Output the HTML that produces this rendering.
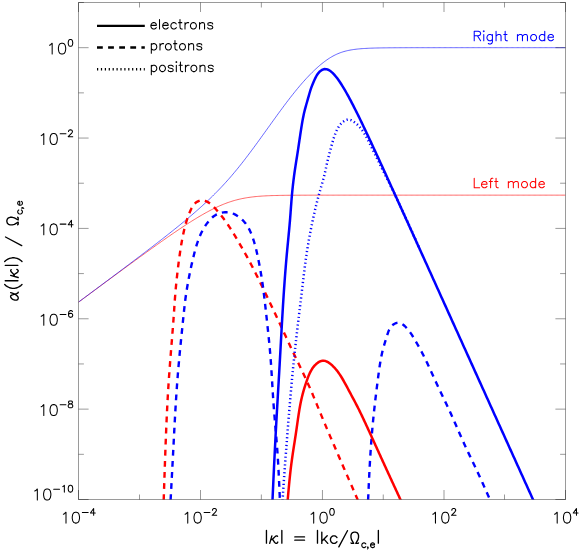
<!DOCTYPE html>
<html><head><meta charset="utf-8"><title>plot</title>
<style>html,body{margin:0;padding:0;background:#fff;font-family:"Liberation Sans",sans-serif}svg{display:block}</style>
</head><body>
<svg width="581" height="553" viewBox="0 0 581 553">
<rect width="581" height="553" fill="#fff"/>
<defs><clipPath id="c"><rect x="78.5" y="2.5" width="487.0" height="497.0"/></clipPath></defs>
<g clip-path="url(#c)" fill="none" stroke-linejoin="round">
<path d="M78.5,302.19 L79.72,301.29 L80.94,300.39 L82.15,299.49 L83.37,298.59 L84.59,297.68 L85.81,296.78 L87.02,295.88 L88.24,294.98 L89.46,294.08 L90.68,293.18 L91.89,292.28 L93.11,291.38 L94.33,290.48 L95.55,289.58 L96.76,288.68 L97.98,287.78 L99.2,286.88 L100.41,285.98 L101.63,285.08 L102.85,284.18 L104.07,283.28 L105.28,282.38 L106.5,281.49 L107.72,280.59 L108.94,279.69 L110.16,278.79 L111.37,277.9 L112.59,277 L113.81,276.1 L115.03,275.21 L116.24,274.31 L117.46,273.42 L118.68,272.52 L119.9,271.63 L121.11,270.73 L122.33,269.84 L123.55,268.95 L124.76,268.05 L125.98,267.16 L127.2,266.27 L128.42,265.38 L129.63,264.49 L130.85,263.6 L132.07,262.71 L133.29,261.82 L134.5,260.93 L135.72,260.04 L136.94,259.16 L138.16,258.27 L139.38,257.39 L140.59,256.5 L141.81,255.62 L143.03,254.74 L144.25,253.86 L145.46,252.98 L146.68,252.1 L147.9,251.22 L149.12,250.34 L150.33,249.47 L151.55,248.6 L152.77,247.72 L153.99,246.85 L155.2,245.98 L156.42,245.12 L157.64,244.25 L158.86,243.39 L160.07,242.52 L161.29,241.66 L162.51,240.8 L163.72,239.95 L164.94,239.09 L166.16,238.24 L167.38,237.39 L168.59,236.55 L169.81,235.7 L171.03,234.86 L172.25,234.02 L173.47,233.19 L174.68,232.36 L175.9,231.53 L177.12,230.7 L178.33,229.88 L179.55,229.06 L180.77,228.25 L181.99,227.44 L183.2,226.64 L184.42,225.84 L185.64,225.04 L186.86,224.25 L188.07,223.46 L189.29,222.68 L190.51,221.91 L191.73,221.14 L192.94,220.38 L194.16,219.62 L195.38,218.87 L196.6,218.13 L197.81,217.4 L199.03,216.67 L200.25,215.95 L201.47,215.24 L202.69,214.54 L203.9,213.85 L205.12,213.17 L206.34,212.49 L207.56,211.83 L208.77,211.18 L209.99,210.53 L211.21,209.9 L212.43,209.29 L213.64,208.68 L214.86,208.08 L216.08,207.5 L217.29,206.93 L218.51,206.38 L219.73,205.84 L220.95,205.31 L222.16,204.8 L223.38,204.3 L224.6,203.81 L225.82,203.35 L227.03,202.89 L228.25,202.46 L229.47,202.04 L230.69,201.63 L231.91,201.24 L233.12,200.87 L234.34,200.51 L235.56,200.17 L236.78,199.85 L237.99,199.54 L239.21,199.24 L240.43,198.97 L241.65,198.7 L242.86,198.45 L244.08,198.22 L245.3,197.99 L246.51,197.79 L247.73,197.59 L248.95,197.41 L250.17,197.24 L251.38,197.08 L252.6,196.93 L253.82,196.79 L255.04,196.66 L256.25,196.54 L257.47,196.43 L258.69,196.32 L259.91,196.23 L261.12,196.14 L262.34,196.06 L263.56,195.98 L264.78,195.92 L266,195.85 L267.21,195.79 L268.43,195.74 L269.65,195.69 L270.87,195.64 L272.08,195.6 L273.3,195.56 L274.52,195.53 L275.74,195.5 L276.95,195.47 L278.17,195.44 L279.39,195.41 L280.61,195.39 L281.82,195.37 L283.04,195.35 L284.26,195.33 L285.48,195.32 L286.69,195.3 L287.91,195.29 L289.13,195.28 L290.35,195.27 L291.56,195.26 L292.78,195.25 L294,195.24 L295.22,195.23 L296.43,195.22 L297.65,195.22 L298.87,195.21 L300.09,195.21 L301.3,195.2 L302.52,195.2 L303.74,195.19 L304.96,195.19 L306.17,195.19 L307.39,195.18 L308.61,195.18 L309.82,195.18 L311.04,195.18 L312.26,195.17 L313.48,195.17 L314.69,195.17 L315.91,195.17 L317.13,195.17 L318.35,195.17 L319.56,195.16 L320.78,195.16 L322,195.16 L323.22,195.16 L324.44,195.16 L325.65,195.16 L326.87,195.16 L328.09,195.16 L329.31,195.16 L330.52,195.16 L331.74,195.16 L332.96,195.16 L334.18,195.16 L335.39,195.15 L336.61,195.15 L337.83,195.15 L339.05,195.15 L340.26,195.15 L341.48,195.15 L342.7,195.15 L343.92,195.15 L345.13,195.15 L346.35,195.15 L347.57,195.15 L348.79,195.15 L350,195.15 L351.22,195.15 L352.44,195.15 L353.65,195.15 L354.87,195.15 L356.09,195.15 L357.31,195.15 L358.52,195.15 L359.74,195.15 L360.96,195.15 L362.18,195.15 L363.39,195.15 L364.61,195.15 L365.83,195.15 L367.05,195.15 L368.26,195.15 L369.48,195.15 L370.7,195.15 L371.92,195.15 L373.13,195.15 L374.35,195.15 L375.57,195.15 L376.79,195.15 L378,195.15 L379.22,195.15 L380.44,195.15 L381.66,195.15 L382.88,195.15 L384.09,195.15 L385.31,195.15 L386.53,195.15 L387.75,195.15 L388.96,195.15 L390.18,195.15 L391.4,195.15 L392.62,195.15 L393.83,195.15 L395.05,195.15 L396.27,195.15 L397.49,195.15 L398.7,195.15 L399.92,195.15 L401.14,195.15 L402.36,195.15 L403.57,195.15 L404.79,195.15 L406.01,195.15 L407.23,195.15 L408.44,195.15 L409.66,195.15 L410.88,195.15 L412.1,195.15 L413.31,195.15 L414.53,195.15 L415.75,195.15 L416.96,195.15 L418.18,195.15 L419.4,195.15 L420.62,195.15 L421.83,195.15 L423.05,195.15 L424.27,195.15 L425.49,195.15 L426.7,195.15 L427.92,195.15 L429.14,195.15 L430.36,195.15 L431.57,195.15 L432.79,195.15 L434.01,195.15 L435.23,195.15 L436.44,195.15 L437.66,195.15 L438.88,195.15 L440.1,195.15 L441.31,195.15 L442.53,195.15 L443.75,195.15 L444.97,195.15 L446.19,195.15 L447.4,195.15 L448.62,195.15 L449.84,195.15 L451.06,195.15 L452.27,195.15 L453.49,195.15 L454.71,195.15 L455.93,195.15 L457.14,195.15 L458.36,195.15 L459.58,195.15 L460.8,195.15 L462.01,195.15 L463.23,195.15 L464.45,195.15 L465.67,195.15 L466.88,195.15 L468.1,195.15 L469.32,195.15 L470.54,195.15 L471.75,195.15 L472.97,195.15 L474.19,195.15 L475.4,195.15 L476.62,195.15 L477.84,195.15 L479.06,195.15 L480.27,195.15 L481.49,195.15 L482.71,195.15 L483.93,195.15 L485.14,195.15 L486.36,195.15 L487.58,195.15 L488.8,195.15 L490.01,195.15 L491.23,195.15 L492.45,195.15 L493.67,195.15 L494.88,195.15 L496.1,195.15 L497.32,195.15 L498.54,195.15 L499.75,195.15 L500.97,195.15 L502.19,195.15 L503.41,195.15 L504.62,195.15 L505.84,195.15 L507.06,195.15 L508.28,195.15 L509.5,195.15 L510.71,195.15 L511.93,195.15 L513.15,195.15 L514.37,195.15 L515.58,195.15 L516.8,195.15 L518.02,195.15 L519.24,195.15 L520.45,195.15 L521.67,195.15 L522.89,195.15 L524.11,195.15 L525.32,195.15 L526.54,195.15 L527.76,195.15 L528.98,195.15 L530.19,195.15 L531.41,195.15 L532.63,195.15 L533.85,195.15 L535.06,195.15 L536.28,195.15 L537.5,195.15 L538.71,195.15 L539.93,195.15 L541.15,195.15 L542.37,195.15 L543.59,195.15 L544.8,195.15 L546.02,195.15 L547.24,195.15 L548.45,195.15 L549.67,195.15 L550.89,195.15 L552.11,195.15 L553.33,195.15 L554.54,195.15 L555.76,195.15 L556.98,195.15 L558.19,195.15 L559.41,195.15 L560.63,195.15 L561.85,195.15 L563.07,195.15 L564.28,195.15 L565.5,195.15" stroke="#f00" stroke-width="0.6"/>
<path d="M78.5,302.11 L79.72,301.2 L80.94,300.3 L82.15,299.39 L83.37,298.48 L84.59,297.58 L85.81,296.67 L87.02,295.77 L88.24,294.86 L89.46,293.95 L90.68,293.05 L91.89,292.14 L93.11,291.23 L94.33,290.33 L95.55,289.42 L96.76,288.51 L97.98,287.6 L99.2,286.7 L100.41,285.79 L101.63,284.88 L102.85,283.97 L104.07,283.06 L105.28,282.15 L106.5,281.24 L107.72,280.34 L108.94,279.43 L110.16,278.52 L111.37,277.61 L112.59,276.69 L113.81,275.78 L115.03,274.87 L116.24,273.96 L117.46,273.05 L118.68,272.14 L119.9,271.22 L121.11,270.31 L122.33,269.4 L123.55,268.48 L124.76,267.57 L125.98,266.65 L127.2,265.74 L128.42,264.82 L129.63,263.91 L130.85,262.99 L132.07,262.07 L133.29,261.15 L134.5,260.23 L135.72,259.31 L136.94,258.39 L138.16,257.47 L139.38,256.55 L140.59,255.62 L141.81,254.7 L143.03,253.77 L144.25,252.85 L145.46,251.92 L146.68,250.99 L147.9,250.06 L149.12,249.13 L150.33,248.2 L151.55,247.27 L152.77,246.33 L153.99,245.39 L155.2,244.46 L156.42,243.52 L157.64,242.58 L158.86,241.63 L160.07,240.69 L161.29,239.74 L162.51,238.79 L163.72,237.84 L164.94,236.89 L166.16,235.93 L167.38,234.97 L168.59,234.01 L169.81,233.05 L171.03,232.08 L172.25,231.11 L173.47,230.14 L174.68,229.17 L175.9,228.19 L177.12,227.21 L178.33,226.22 L179.55,225.23 L180.77,224.24 L181.99,223.24 L183.2,222.24 L184.42,221.23 L185.64,220.22 L186.86,219.2 L188.07,218.18 L189.29,217.15 L190.51,216.12 L191.73,215.08 L192.94,214.04 L194.16,212.99 L195.38,211.93 L196.6,210.86 L197.81,209.79 L199.03,208.71 L200.25,207.62 L201.47,206.52 L202.69,205.42 L203.9,204.3 L205.12,203.18 L206.34,202.05 L207.56,200.9 L208.77,199.75 L209.99,198.59 L211.21,197.41 L212.43,196.22 L213.64,195.02 L214.86,193.81 L216.08,192.59 L217.29,191.35 L218.51,190.1 L219.73,188.84 L220.95,187.56 L222.16,186.27 L223.38,184.96 L224.6,183.64 L225.82,182.3 L227.03,180.95 L228.25,179.58 L229.47,178.2 L230.69,176.8 L231.91,175.38 L233.12,173.95 L234.34,172.51 L235.56,171.04 L236.78,169.57 L237.99,168.08 L239.21,166.57 L240.43,165.05 L241.65,163.51 L242.86,161.96 L244.08,160.4 L245.3,158.82 L246.51,157.24 L247.73,155.64 L248.95,154.03 L250.17,152.41 L251.38,150.77 L252.6,149.13 L253.82,147.48 L255.04,145.83 L256.25,144.16 L257.47,142.49 L258.69,140.82 L259.91,139.13 L261.12,137.45 L262.34,135.76 L263.56,134.07 L264.78,132.37 L266,130.67 L267.21,128.98 L268.43,127.28 L269.65,125.58 L270.87,123.88 L272.08,122.19 L273.3,120.5 L274.52,118.81 L275.74,117.13 L276.95,115.45 L278.17,113.78 L279.39,112.11 L280.61,110.45 L281.82,108.8 L283.04,107.16 L284.26,105.52 L285.48,103.9 L286.69,102.29 L287.91,100.69 L289.13,99.1 L290.35,97.53 L291.56,95.97 L292.78,94.43 L294,92.9 L295.22,91.39 L296.43,89.9 L297.65,88.42 L298.87,86.96 L300.09,85.53 L301.3,84.11 L302.52,82.71 L303.74,81.33 L304.96,79.98 L306.17,78.64 L307.39,77.33 L308.61,76.05 L309.82,74.78 L311.04,73.54 L312.26,72.32 L313.48,71.13 L314.69,69.97 L315.91,68.83 L317.13,67.72 L318.35,66.63 L319.56,65.58 L320.78,64.55 L322,63.56 L323.22,62.59 L324.44,61.66 L325.65,60.76 L326.87,59.89 L328.09,59.06 L329.31,58.26 L330.52,57.5 L331.74,56.78 L332.96,56.09 L334.18,55.45 L335.39,54.83 L336.61,54.26 L337.83,53.72 L339.05,53.22 L340.26,52.76 L341.48,52.33 L342.7,51.93 L343.92,51.56 L345.13,51.22 L346.35,50.91 L347.57,50.62 L348.79,50.36 L350,50.12 L351.22,49.91 L352.44,49.71 L353.65,49.53 L354.87,49.36 L356.09,49.21 L357.31,49.07 L358.52,48.95 L359.74,48.84 L360.96,48.73 L362.18,48.64 L363.39,48.55 L364.61,48.48 L365.83,48.41 L367.05,48.34 L368.26,48.28 L369.48,48.23 L370.7,48.18 L371.92,48.14 L373.13,48.1 L374.35,48.06 L375.57,48.03 L376.79,47.99 L378,47.97 L379.22,47.94 L380.44,47.92 L381.66,47.9 L382.88,47.88 L384.09,47.86 L385.31,47.85 L386.53,47.83 L387.75,47.82 L388.96,47.81 L390.18,47.79 L391.4,47.79 L392.62,47.78 L393.83,47.77 L395.05,47.76 L396.27,47.75 L397.49,47.75 L398.7,47.74 L399.92,47.74 L401.14,47.73 L402.36,47.73 L403.57,47.72 L404.79,47.72 L406.01,47.72 L407.23,47.71 L408.44,47.71 L409.66,47.71 L410.88,47.71 L412.1,47.7 L413.31,47.7 L414.53,47.7 L415.75,47.7 L416.96,47.7 L418.18,47.7 L419.4,47.69 L420.62,47.69 L421.83,47.69 L423.05,47.69 L424.27,47.69 L425.49,47.69 L426.7,47.69 L427.92,47.69 L429.14,47.69 L430.36,47.69 L431.57,47.69 L432.79,47.69 L434.01,47.69 L435.23,47.69 L436.44,47.69 L437.66,47.68 L438.88,47.68 L440.1,47.68 L441.31,47.68 L442.53,47.68 L443.75,47.68 L444.97,47.68 L446.19,47.68 L447.4,47.68 L448.62,47.68 L449.84,47.68 L451.06,47.68 L452.27,47.68 L453.49,47.68 L454.71,47.68 L455.93,47.68 L457.14,47.68 L458.36,47.68 L459.58,47.68 L460.8,47.68 L462.01,47.68 L463.23,47.68 L464.45,47.68 L465.67,47.68 L466.88,47.68 L468.1,47.68 L469.32,47.68 L470.54,47.68 L471.75,47.68 L472.97,47.68 L474.19,47.68 L475.4,47.68 L476.62,47.68 L477.84,47.68 L479.06,47.68 L480.27,47.68 L481.49,47.68 L482.71,47.68 L483.93,47.68 L485.14,47.68 L486.36,47.68 L487.58,47.68 L488.8,47.68 L490.01,47.68 L491.23,47.68 L492.45,47.68 L493.67,47.68 L494.88,47.68 L496.1,47.68 L497.32,47.68 L498.54,47.68 L499.75,47.68 L500.97,47.68 L502.19,47.68 L503.41,47.68 L504.62,47.68 L505.84,47.68 L507.06,47.68 L508.28,47.68 L509.5,47.68 L510.71,47.68 L511.93,47.68 L513.15,47.68 L514.37,47.68 L515.58,47.68 L516.8,47.68 L518.02,47.68 L519.24,47.68 L520.45,47.68 L521.67,47.68 L522.89,47.68 L524.11,47.68 L525.32,47.68 L526.54,47.68 L527.76,47.68 L528.98,47.68 L530.19,47.68 L531.41,47.68 L532.63,47.68 L533.85,47.68 L535.06,47.68 L536.28,47.68 L537.5,47.68 L538.71,47.68 L539.93,47.68 L541.15,47.68 L542.37,47.68 L543.59,47.68 L544.8,47.68 L546.02,47.68 L547.24,47.68 L548.45,47.68 L549.67,47.68 L550.89,47.68 L552.11,47.68 L553.33,47.68 L554.54,47.68 L555.76,47.68 L556.98,47.68 L558.19,47.68 L559.41,47.68 L560.63,47.68 L561.85,47.68 L563.07,47.68 L564.28,47.68 L565.5,47.68" stroke="#00f" stroke-width="0.6"/>
<path d="M163.7,500 L163.75,498.37 L163.81,496.75 L163.86,495.12 L163.91,493.5 L163.97,491.87 L164.02,490.25 L164.07,488.62 L164.13,487 L164.18,485.37 L164.24,483.75 L164.29,482.12 L164.35,480.5 L164.4,478.87 L164.45,477.25 L164.51,475.62 L164.56,474 L164.62,472.37 L164.67,470.75 L164.73,469.12 L164.79,467.5 L164.84,465.87 L164.9,464.25 L164.96,462.62 L165.01,461 L165.07,459.37 L165.13,457.75 L165.19,456.12 L165.24,454.5 L165.3,452.87 L165.36,451.25 L165.42,449.62 L165.48,448 L165.54,446.37 L165.6,444.75 L165.66,443.12 L165.73,441.5 L165.79,439.87 L165.85,438.25 L165.91,436.62 L165.98,435 L166.04,433.37 L166.11,431.75 L166.18,430.12 L166.24,428.5 L166.31,426.87 L166.38,425.25 L166.45,423.62 L166.52,422 L166.59,420.37 L166.67,418.75 L166.74,417.12 L166.82,415.5 L166.89,413.87 L166.97,412.25 L167.05,410.63 L167.13,409 L167.21,407.38 L167.29,405.75 L167.38,404.13 L167.46,402.51 L167.55,400.88 L167.64,399.26 L167.73,397.63 L167.82,396.01 L167.91,394.39 L168.01,392.76 L168.1,391.14 L168.2,389.52 L168.3,387.9 L168.4,386.27 L168.51,384.65 L168.61,383.03 L168.72,381.4 L168.83,379.78 L168.94,378.16 L169.05,376.54 L169.16,374.92 L169.28,373.29 L169.4,371.67 L169.52,370.05 L169.64,368.43 L169.76,366.81 L169.89,365.19 L170.01,363.57 L170.14,361.94 L170.26,360.32 L170.39,358.7 L170.52,357.08 L170.65,355.46 L170.78,353.84 L170.91,352.22 L171.04,350.6 L171.17,348.98 L171.3,347.36 L171.43,345.74 L171.56,344.11 L171.69,342.49 L171.83,340.87 L171.96,339.25 L172.09,337.63 L172.22,336.01 L172.34,334.39 L172.47,332.77 L172.6,331.15 L172.73,329.53 L172.85,327.9 L172.98,326.28 L173.1,324.66 L173.22,323.04 L173.34,321.42 L173.46,319.8 L173.58,318.17 L173.69,316.55 L173.8,314.93 L173.92,313.31 L174.03,311.69 L174.14,310.06 L174.25,308.44 L174.36,306.82 L174.47,305.2 L174.58,303.57 L174.69,301.95 L174.81,300.33 L174.93,298.71 L175.05,297.09 L175.17,295.47 L175.3,293.84 L175.44,292.22 L175.58,290.6 L175.73,288.98 L175.88,287.37 L176.03,285.75 L176.19,284.13 L176.35,282.51 L176.52,280.89 L176.69,279.28 L176.86,277.66 L177.04,276.04 L177.22,274.43 L177.4,272.81 L177.59,271.19 L177.78,269.58 L177.97,267.96 L178.17,266.35 L178.37,264.74 L178.57,263.12 L178.78,261.51 L179,259.9 L179.21,258.29 L179.44,256.68 L179.66,255.07 L179.89,253.46 L180.13,251.85 L180.37,250.24 L180.62,248.63 L180.87,247.03 L181.13,245.42 L181.4,243.82 L181.67,242.22 L181.96,240.62 L182.25,239.02 L182.56,237.42 L182.88,235.82 L183.2,234.22 L183.54,232.63 L183.9,231.04 L184.26,229.45 L184.65,227.87 L185.05,226.29 L185.47,224.72 L185.9,223.16 L186.36,221.6 L186.84,220.05 L187.34,218.51 L187.87,216.98 L188.43,215.46 L189.01,213.94 L189.62,212.43 L190.27,210.92 L190.95,209.42 L191.68,207.94 L192.49,206.51 L193.4,205.15 L194.44,203.9 L195.63,202.77 L196.99,201.81 L198.47,201.06 L200.05,200.54 L201.67,200.31 L203.28,200.39 L204.88,200.76 L206.42,201.36 L207.9,202.12 L209.3,203.01 L210.61,203.99 L211.85,205.04 L213.03,206.16 L214.17,207.32 L215.28,208.52 L216.36,209.73 L217.43,210.96 L218.49,212.2 L219.53,213.45 L220.55,214.72 L221.56,215.99 L222.56,217.28 L223.54,218.57 L224.51,219.88 L225.47,221.19 L226.41,222.52 L227.33,223.85 L228.25,225.2 L229.15,226.55 L230.04,227.91 L230.92,229.28 L231.79,230.65 L232.65,232.03 L233.5,233.42 L234.35,234.81 L235.19,236.2 L236.02,237.6 L236.85,239 L237.67,240.41 L238.49,241.81 L239.31,243.22 L240.12,244.63 L240.94,246.04 L241.75,247.45 L242.55,248.86 L243.35,250.28 L244.15,251.69 L244.95,253.11 L245.74,254.53 L246.53,255.95 L247.31,257.38 L248.09,258.8 L248.87,260.23 L249.64,261.67 L250.4,263.1 L251.16,264.54 L251.92,265.98 L252.67,267.42 L253.41,268.86 L254.15,270.31 L254.89,271.76 L255.62,273.21 L256.35,274.67 L257.08,276.12 L257.8,277.58 L258.52,279.04 L259.23,280.5 L259.95,281.96 L260.66,283.42 L261.37,284.88 L262.08,286.35 L262.79,287.81 L263.5,289.27 L264.21,290.74 L264.92,292.2 L265.62,293.67 L266.33,295.13 L267.03,296.6 L267.74,298.06 L268.44,299.53 L269.15,300.99 L269.85,302.46 L270.55,303.93 L271.25,305.4 L271.95,306.86 L272.65,308.33 L273.35,309.8 L274.04,311.27 L274.74,312.74 L275.43,314.21 L276.12,315.68 L276.81,317.15 L277.5,318.63 L278.19,320.1 L278.88,321.57 L279.56,323.05 L280.25,324.52 L280.93,326 L281.61,327.47 L282.3,328.95 L282.98,330.43 L283.66,331.9 L284.34,333.38 L285.02,334.85 L285.71,336.33 L286.39,337.81 L287.07,339.28 L287.76,340.76 L288.44,342.23 L289.13,343.7 L289.82,345.18 L290.5,346.65 L291.19,348.12 L291.89,349.6 L292.58,351.07 L293.27,352.54 L293.97,354.01 L294.67,355.48 L295.37,356.94 L296.07,358.41 L296.78,359.88 L297.48,361.34 L298.19,362.81 L298.89,364.27 L299.6,365.74 L300.3,367.21 L301,368.67 L301.7,370.14 L302.4,371.61 L303.1,373.08 L303.79,374.55 L304.49,376.02 L305.17,377.49 L305.86,378.97 L306.53,380.44 L307.21,381.92 L307.88,383.41 L308.54,384.89 L309.2,386.38 L309.85,387.86 L310.5,389.36 L311.15,390.85 L311.78,392.34 L312.42,393.84 L313.05,395.34 L313.68,396.84 L314.31,398.34 L314.93,399.84 L315.56,401.34 L316.18,402.84 L316.8,404.35 L317.42,405.85 L318.04,407.36 L318.65,408.86 L319.27,410.37 L319.89,411.87 L320.51,413.37 L321.13,414.88 L321.75,416.38 L322.37,417.88 L323,419.38 L323.63,420.88 L324.25,422.38 L324.88,423.88 L325.52,425.38 L326.15,426.88 L326.78,428.38 L327.42,429.87 L328.06,431.37 L328.69,432.86 L329.33,434.36 L329.97,435.85 L330.61,437.35 L331.26,438.84 L331.9,440.34 L332.54,441.83 L333.19,443.32 L333.83,444.82 L334.48,446.31 L335.12,447.8 L335.77,449.29 L336.41,450.79 L337.06,452.28 L337.71,453.77 L338.35,455.26 L339,456.75 L339.65,458.24 L340.29,459.74 L340.94,461.23 L341.59,462.72 L342.24,464.21 L342.88,465.7 L343.53,467.19 L344.18,468.69 L344.83,470.18 L345.48,471.67 L346.12,473.16 L346.77,474.65 L347.42,476.14 L348.07,477.63 L348.72,479.12 L349.37,480.62 L350.01,482.11 L350.66,483.6 L351.31,485.09 L351.96,486.58 L352.61,488.07 L353.26,489.56 L353.91,491.05 L354.56,492.54 L355.2,494.04 L355.85,495.53 L356.5,497.02 L357.15,498.51 L357.8,500" stroke="#f00" stroke-width="2.4" stroke-dasharray="5.8 5.3" stroke-dashoffset="0"/>
<path d="M170.6,500 L170.68,498.48 L170.76,496.96 L170.85,495.44 L170.93,493.92 L171.01,492.41 L171.09,490.89 L171.17,489.37 L171.26,487.85 L171.34,486.33 L171.42,484.81 L171.5,483.29 L171.58,481.77 L171.67,480.25 L171.75,478.73 L171.83,477.22 L171.91,475.7 L171.99,474.18 L172.07,472.66 L172.15,471.14 L172.24,469.62 L172.32,468.1 L172.4,466.58 L172.48,465.06 L172.56,463.54 L172.64,462.02 L172.72,460.51 L172.8,458.99 L172.88,457.47 L172.96,455.95 L173.04,454.43 L173.12,452.91 L173.2,451.39 L173.28,449.87 L173.36,448.35 L173.43,446.83 L173.51,445.31 L173.59,443.79 L173.67,442.27 L173.75,440.75 L173.83,439.24 L173.9,437.72 L173.98,436.2 L174.06,434.68 L174.14,433.16 L174.22,431.64 L174.3,430.12 L174.38,428.6 L174.46,427.08 L174.54,425.56 L174.62,424.04 L174.7,422.52 L174.78,421 L174.87,419.48 L174.95,417.97 L175.03,416.45 L175.12,414.93 L175.21,413.41 L175.29,411.89 L175.38,410.37 L175.47,408.85 L175.56,407.33 L175.65,405.81 L175.74,404.3 L175.83,402.78 L175.93,401.26 L176.02,399.74 L176.12,398.22 L176.22,396.71 L176.32,395.19 L176.42,393.67 L176.52,392.15 L176.62,390.63 L176.73,389.12 L176.84,387.6 L176.94,386.08 L177.06,384.57 L177.17,383.05 L177.28,381.53 L177.4,380.02 L177.52,378.5 L177.64,376.98 L177.76,375.47 L177.88,373.95 L178.01,372.43 L178.13,370.92 L178.26,369.4 L178.39,367.89 L178.53,366.37 L178.66,364.86 L178.79,363.34 L178.93,361.83 L179.07,360.31 L179.21,358.8 L179.35,357.28 L179.49,355.77 L179.63,354.25 L179.78,352.74 L179.92,351.23 L180.07,349.71 L180.22,348.2 L180.37,346.68 L180.52,345.17 L180.67,343.66 L180.82,342.14 L180.97,340.63 L181.12,339.11 L181.27,337.6 L181.43,336.09 L181.58,334.57 L181.74,333.06 L181.89,331.55 L182.05,330.03 L182.2,328.52 L182.36,327.01 L182.51,325.49 L182.67,323.98 L182.83,322.47 L182.98,320.95 L183.14,319.44 L183.3,317.93 L183.45,316.41 L183.61,314.9 L183.77,313.39 L183.92,311.87 L184.08,310.36 L184.24,308.85 L184.41,307.33 L184.57,305.82 L184.75,304.31 L184.92,302.8 L185.11,301.29 L185.3,299.78 L185.5,298.27 L185.7,296.76 L185.92,295.26 L186.14,293.75 L186.37,292.25 L186.6,290.75 L186.85,289.24 L187.09,287.74 L187.35,286.24 L187.61,284.74 L187.88,283.24 L188.15,281.75 L188.43,280.25 L188.71,278.76 L188.99,277.26 L189.28,275.77 L189.58,274.28 L189.88,272.79 L190.18,271.3 L190.49,269.81 L190.81,268.32 L191.13,266.83 L191.45,265.35 L191.78,263.87 L192.12,262.38 L192.46,260.9 L192.81,259.42 L193.16,257.94 L193.53,256.46 L193.9,254.98 L194.27,253.5 L194.66,252.03 L195.05,250.55 L195.46,249.08 L195.87,247.61 L196.3,246.15 L196.75,244.69 L197.21,243.24 L197.7,241.8 L198.2,240.36 L198.73,238.93 L199.28,237.52 L199.85,236.11 L200.46,234.72 L201.09,233.34 L201.76,231.97 L202.45,230.61 L203.18,229.28 L203.94,227.96 L204.74,226.66 L205.57,225.38 L206.44,224.12 L207.35,222.89 L208.3,221.68 L209.28,220.5 L210.31,219.36 L211.39,218.27 L212.52,217.24 L213.71,216.28 L214.96,215.41 L216.27,214.64 L217.64,213.97 L219.06,213.41 L220.52,212.96 L222.02,212.62 L223.54,212.38 L225.07,212.26 L226.61,212.25 L228.13,212.36 L229.64,212.59 L231.12,212.93 L232.57,213.4 L233.98,213.98 L235.35,214.66 L236.68,215.42 L237.97,216.26 L239.22,217.16 L240.42,218.11 L241.57,219.11 L242.68,220.17 L243.73,221.27 L244.74,222.42 L245.69,223.61 L246.58,224.84 L247.42,226.11 L248.21,227.41 L248.95,228.74 L249.64,230.1 L250.29,231.48 L250.91,232.88 L251.49,234.3 L252.04,235.73 L252.56,237.16 L253.06,238.61 L253.53,240.06 L253.99,241.51 L254.42,242.97 L254.84,244.44 L255.24,245.91 L255.62,247.38 L255.99,248.85 L256.35,250.33 L256.69,251.81 L257.03,253.29 L257.36,254.78 L257.68,256.27 L257.99,257.75 L258.3,259.24 L258.6,260.73 L258.9,262.23 L259.19,263.72 L259.48,265.21 L259.76,266.71 L260.03,268.21 L260.3,269.7 L260.56,271.2 L260.82,272.7 L261.07,274.2 L261.32,275.7 L261.56,277.21 L261.8,278.71 L262.03,280.21 L262.25,281.72 L262.47,283.22 L262.69,284.73 L262.9,286.24 L263.1,287.74 L263.3,289.25 L263.5,290.76 L263.69,292.27 L263.88,293.78 L264.07,295.29 L264.25,296.8 L264.43,298.31 L264.61,299.82 L264.79,301.33 L264.96,302.84 L265.13,304.35 L265.3,305.86 L265.47,307.38 L265.63,308.89 L265.8,310.4 L265.96,311.91 L266.13,313.43 L266.29,314.94 L266.46,316.45 L266.62,317.96 L266.79,319.48 L266.95,320.99 L267.12,322.5 L267.28,324.01 L267.45,325.53 L267.61,327.04 L267.77,328.55 L267.93,330.06 L268.09,331.58 L268.25,333.09 L268.41,334.6 L268.57,336.12 L268.72,337.63 L268.87,339.14 L269.02,340.66 L269.17,342.17 L269.32,343.68 L269.46,345.2 L269.6,346.71 L269.74,348.23 L269.88,349.74 L270.01,351.26 L270.14,352.77 L270.27,354.29 L270.39,355.81 L270.51,357.32 L270.63,358.84 L270.74,360.36 L270.85,361.87 L270.96,363.39 L271.06,364.91 L271.17,366.42 L271.27,367.94 L271.37,369.46 L271.47,370.98 L271.56,372.5 L271.66,374.01 L271.75,375.53 L271.84,377.05 L271.94,378.57 L272.03,380.09 L272.12,381.61 L272.21,383.13 L272.3,384.64 L272.39,386.16 L272.48,387.68 L272.58,389.2 L272.67,390.72 L272.76,392.24 L272.86,393.76 L272.95,395.27 L273.05,396.79 L273.15,398.31 L273.25,399.83 L273.35,401.35 L273.46,402.86 L273.57,404.38 L273.68,405.9 L273.79,407.42 L273.91,408.93 L274.02,410.45 L274.14,411.97 L274.27,413.48 L274.39,415 L274.52,416.51 L274.64,418.03 L274.77,419.55 L274.9,421.06 L275.03,422.58 L275.16,424.09 L275.29,425.61 L275.42,427.13 L275.55,428.64 L275.68,430.16 L275.81,431.67 L275.94,433.19 L276.07,434.7 L276.2,436.22 L276.33,437.74 L276.45,439.25 L276.58,440.77 L276.7,442.28 L276.82,443.8 L276.94,445.32 L277.05,446.83 L277.16,448.35 L277.27,449.87 L277.38,451.38 L277.48,452.9 L277.59,454.42 L277.69,455.94 L277.78,457.46 L277.88,458.97 L277.97,460.49 L278.06,462.01 L278.15,463.53 L278.24,465.05 L278.32,466.57 L278.41,468.09 L278.49,469.6 L278.57,471.12 L278.65,472.64 L278.73,474.16 L278.8,475.68 L278.88,477.2 L278.95,478.72 L279.02,480.24 L279.09,481.76 L279.16,483.28 L279.23,484.8 L279.3,486.32 L279.37,487.84 L279.44,489.36 L279.51,490.88 L279.57,492.4 L279.64,493.92 L279.7,495.44 L279.77,496.96 L279.83,498.48 L279.9,500" stroke="#00f" stroke-width="2.4" stroke-dasharray="5.8 5.3" stroke-dashoffset="0"/>
<path d="M368.1,500 L368.14,499.04 L368.19,498.07 L368.23,497.11 L368.27,496.14 L368.31,495.18 L368.36,494.21 L368.4,493.25 L368.44,492.28 L368.49,491.32 L368.53,490.35 L368.57,489.39 L368.62,488.42 L368.66,487.46 L368.7,486.5 L368.75,485.53 L368.79,484.57 L368.84,483.6 L368.88,482.64 L368.93,481.67 L368.97,480.71 L369.02,479.74 L369.07,478.78 L369.11,477.81 L369.16,476.85 L369.21,475.89 L369.26,474.92 L369.3,473.96 L369.35,472.99 L369.4,472.03 L369.45,471.06 L369.5,470.1 L369.55,469.14 L369.6,468.17 L369.66,467.21 L369.71,466.24 L369.76,465.28 L369.82,464.32 L369.87,463.35 L369.92,462.39 L369.98,461.42 L370.04,460.46 L370.09,459.5 L370.15,458.53 L370.21,457.57 L370.27,456.6 L370.33,455.64 L370.39,454.68 L370.45,453.71 L370.51,452.75 L370.57,451.79 L370.64,450.82 L370.7,449.86 L370.77,448.9 L370.83,447.93 L370.9,446.97 L370.97,446.01 L371.03,445.04 L371.1,444.08 L371.17,443.12 L371.24,442.15 L371.32,441.19 L371.39,440.23 L371.46,439.27 L371.54,438.3 L371.61,437.34 L371.69,436.38 L371.77,435.42 L371.85,434.45 L371.93,433.49 L372.01,432.53 L372.09,431.57 L372.17,430.6 L372.26,429.64 L372.34,428.68 L372.43,427.72 L372.52,426.76 L372.61,425.79 L372.69,424.83 L372.79,423.87 L372.88,422.91 L372.97,421.95 L373.06,420.99 L373.16,420.03 L373.25,419.06 L373.35,418.1 L373.45,417.14 L373.54,416.18 L373.64,415.22 L373.74,414.26 L373.84,413.3 L373.95,412.34 L374.05,411.38 L374.15,410.42 L374.26,409.46 L374.36,408.5 L374.47,407.54 L374.57,406.58 L374.68,405.62 L374.79,404.66 L374.9,403.7 L375.01,402.75 L375.12,401.79 L375.23,400.83 L375.34,399.87 L375.45,398.91 L375.56,397.96 L375.68,397 L375.79,396.04 L375.91,395.08 L376.02,394.12 L376.14,393.17 L376.25,392.21 L376.37,391.25 L376.49,390.29 L376.61,389.34 L376.73,388.38 L376.85,387.42 L376.97,386.46 L377.09,385.51 L377.21,384.55 L377.33,383.59 L377.45,382.63 L377.57,381.67 L377.7,380.71 L377.82,379.75 L377.94,378.8 L378.07,377.84 L378.19,376.88 L378.32,375.92 L378.45,374.96 L378.57,374 L378.7,373.04 L378.83,372.07 L378.96,371.11 L379.09,370.15 L379.22,369.19 L379.36,368.23 L379.49,367.27 L379.63,366.32 L379.78,365.36 L379.93,364.4 L380.08,363.45 L380.23,362.49 L380.39,361.54 L380.56,360.59 L380.72,359.64 L380.9,358.69 L381.08,357.74 L381.26,356.79 L381.45,355.85 L381.65,354.91 L381.85,353.97 L382.07,353.03 L382.28,352.1 L382.51,351.16 L382.74,350.23 L382.98,349.31 L383.23,348.38 L383.48,347.45 L383.74,346.53 L384.01,345.61 L384.28,344.69 L384.55,343.76 L384.83,342.84 L385.11,341.92 L385.39,340.99 L385.68,340.07 L385.96,339.14 L386.25,338.21 L386.54,337.28 L386.83,336.34 L387.12,335.4 L387.42,334.46 L387.72,333.52 L388.03,332.59 L388.37,331.67 L388.73,330.77 L389.13,329.88 L389.56,329.01 L390.05,328.18 L390.58,327.37 L391.17,326.6 L391.83,325.87 L392.55,325.18 L393.35,324.55 L394.19,323.98 L395.08,323.5 L396,323.12 L396.93,322.85 L397.87,322.71 L398.79,322.72 L399.7,322.88 L400.59,323.17 L401.46,323.57 L402.31,324.07 L403.13,324.65 L403.93,325.3 L404.7,326 L405.44,326.73 L406.16,327.48 L406.85,328.23 L407.51,328.99 L408.15,329.75 L408.76,330.52 L409.36,331.29 L409.93,332.07 L410.49,332.85 L411.03,333.64 L411.56,334.43 L412.07,335.22 L412.58,336.02 L413.07,336.83 L413.57,337.64 L414.05,338.45 L414.54,339.26 L415.02,340.08 L415.51,340.91 L415.99,341.74 L416.47,342.57 L416.95,343.4 L417.42,344.23 L417.9,345.07 L418.37,345.92 L418.85,346.76 L419.32,347.61 L419.78,348.46 L420.25,349.31 L420.71,350.16 L421.17,351.02 L421.63,351.88 L422.08,352.74 L422.53,353.6 L422.98,354.46 L423.42,355.32 L423.86,356.19 L424.29,357.05 L424.73,357.92 L425.15,358.79 L425.58,359.66 L426,360.53 L426.42,361.4 L426.84,362.27 L427.26,363.14 L427.67,364.02 L428.08,364.89 L428.49,365.76 L428.9,366.64 L429.31,367.52 L429.71,368.39 L430.11,369.27 L430.52,370.14 L430.92,371.02 L431.32,371.9 L431.72,372.78 L432.12,373.65 L432.52,374.53 L432.92,375.41 L433.31,376.29 L433.71,377.16 L434.11,378.04 L434.51,378.92 L434.91,379.8 L435.31,380.67 L435.72,381.55 L436.12,382.43 L436.52,383.3 L436.93,384.18 L437.34,385.05 L437.74,385.93 L438.15,386.8 L438.56,387.67 L438.98,388.54 L439.39,389.42 L439.8,390.29 L440.22,391.16 L440.63,392.03 L441.05,392.9 L441.46,393.77 L441.88,394.65 L442.3,395.52 L442.71,396.39 L443.13,397.26 L443.55,398.13 L443.96,399 L444.38,399.87 L444.8,400.74 L445.21,401.62 L445.63,402.49 L446.04,403.36 L446.46,404.23 L446.87,405.11 L447.29,405.98 L447.7,406.85 L448.11,407.73 L448.52,408.6 L448.93,409.48 L449.33,410.35 L449.74,411.23 L450.14,412.11 L450.55,412.98 L450.95,413.86 L451.35,414.74 L451.74,415.62 L452.14,416.5 L452.54,417.38 L452.93,418.26 L453.32,419.15 L453.71,420.03 L454.1,420.91 L454.49,421.8 L454.88,422.68 L455.27,423.56 L455.66,424.45 L456.05,425.33 L456.43,426.22 L456.82,427.1 L457.21,427.99 L457.59,428.87 L457.98,429.76 L458.37,430.64 L458.75,431.53 L459.14,432.41 L459.53,433.3 L459.92,434.18 L460.3,435.06 L460.69,435.95 L461.08,436.83 L461.47,437.71 L461.87,438.6 L462.26,439.48 L462.65,440.36 L463.05,441.24 L463.45,442.12 L463.84,443 L464.24,443.88 L464.65,444.76 L465.05,445.63 L465.45,446.51 L465.86,447.38 L466.27,448.26 L466.68,449.13 L467.09,450.01 L467.5,450.88 L467.91,451.76 L468.32,452.63 L468.73,453.5 L469.15,454.37 L469.56,455.25 L469.98,456.12 L470.4,456.99 L470.81,457.86 L471.23,458.73 L471.65,459.6 L472.06,460.47 L472.48,461.34 L472.9,462.21 L473.31,463.09 L473.73,463.96 L474.15,464.83 L474.56,465.7 L474.98,466.57 L475.39,467.44 L475.8,468.32 L476.22,469.19 L476.63,470.06 L477.04,470.94 L477.45,471.81 L477.86,472.68 L478.27,473.56 L478.67,474.44 L479.08,475.31 L479.48,476.19 L479.89,477.07 L480.29,477.94 L480.69,478.82 L481.09,479.7 L481.49,480.58 L481.89,481.46 L482.28,482.34 L482.68,483.22 L483.07,484.1 L483.47,484.98 L483.86,485.87 L484.26,486.75 L484.65,487.63 L485.04,488.51 L485.43,489.39 L485.82,490.28 L486.21,491.16 L486.6,492.04 L486.99,492.93 L487.38,493.81 L487.77,494.7 L488.16,495.58 L488.55,496.46 L488.94,497.35 L489.32,498.23 L489.71,499.12 L490.1,500" stroke="#00f" stroke-width="2.4" stroke-dasharray="5.8 5.3" stroke-dashoffset="0"/>
<path d="M281.4,520 L281.48,518.59 L281.57,517.19 L281.65,515.78 L281.73,514.38 L281.81,512.97 L281.9,511.57 L281.98,510.16 L282.06,508.76 L282.15,507.35 L282.23,505.95 L282.32,504.54 L282.41,503.14 L282.49,501.73 L282.58,500.33 L282.67,498.92 L282.76,497.52 L282.85,496.11 L282.94,494.71 L283.03,493.3 L283.12,491.9 L283.21,490.49 L283.31,489.09 L283.4,487.69 L283.49,486.28 L283.59,484.88 L283.69,483.47 L283.78,482.07 L283.88,480.66 L283.98,479.26 L284.08,477.86 L284.17,476.45 L284.27,475.05 L284.37,473.64 L284.47,472.24 L284.58,470.84 L284.68,469.43 L284.78,468.03 L284.88,466.62 L284.99,465.22 L285.09,463.82 L285.19,462.41 L285.3,461.01 L285.4,459.6 L285.51,458.2 L285.62,456.8 L285.72,455.39 L285.83,453.99 L285.94,452.59 L286.04,451.18 L286.15,449.78 L286.26,448.37 L286.37,446.97 L286.48,445.57 L286.58,444.16 L286.69,442.76 L286.8,441.36 L286.91,439.95 L287.02,438.55 L287.13,437.15 L287.24,435.74 L287.36,434.34 L287.47,432.94 L287.58,431.53 L287.69,430.13 L287.8,428.73 L287.91,427.32 L288.03,425.92 L288.14,424.52 L288.25,423.11 L288.36,421.71 L288.48,420.31 L288.59,418.9 L288.7,417.5 L288.82,416.1 L288.93,414.69 L289.05,413.29 L289.16,411.89 L289.28,410.48 L289.39,409.08 L289.51,407.68 L289.63,406.28 L289.74,404.87 L289.86,403.47 L289.98,402.07 L290.1,400.66 L290.22,399.26 L290.34,397.86 L290.46,396.46 L290.58,395.05 L290.71,393.65 L290.83,392.25 L290.95,390.85 L291.08,389.44 L291.2,388.04 L291.33,386.64 L291.46,385.24 L291.58,383.84 L291.71,382.44 L291.84,381.03 L291.97,379.63 L292.1,378.23 L292.23,376.83 L292.37,375.43 L292.5,374.03 L292.64,372.63 L292.77,371.22 L292.91,369.82 L293.05,368.42 L293.19,367.02 L293.33,365.62 L293.47,364.22 L293.61,362.82 L293.75,361.42 L293.9,360.02 L294.04,358.62 L294.19,357.22 L294.34,355.82 L294.49,354.42 L294.64,353.02 L294.79,351.62 L294.94,350.22 L295.09,348.82 L295.25,347.43 L295.4,346.03 L295.56,344.63 L295.72,343.23 L295.87,341.83 L296.03,340.43 L296.19,339.03 L296.35,337.63 L296.51,336.24 L296.67,334.84 L296.83,333.44 L297,332.04 L297.16,330.64 L297.32,329.24 L297.49,327.85 L297.65,326.45 L297.81,325.05 L297.98,323.65 L298.15,322.26 L298.31,320.86 L298.48,319.46 L298.64,318.06 L298.81,316.66 L298.98,315.27 L299.14,313.87 L299.31,312.47 L299.48,311.07 L299.65,309.67 L299.81,308.28 L299.98,306.88 L300.15,305.48 L300.32,304.08 L300.49,302.69 L300.65,301.29 L300.82,299.89 L300.99,298.49 L301.16,297.09 L301.32,295.7 L301.49,294.3 L301.66,292.9 L301.82,291.5 L301.99,290.1 L302.15,288.71 L302.32,287.31 L302.48,285.91 L302.65,284.51 L302.81,283.11 L302.98,281.71 L303.15,280.32 L303.31,278.92 L303.48,277.52 L303.65,276.12 L303.82,274.72 L303.99,273.33 L304.17,271.93 L304.34,270.53 L304.52,269.14 L304.7,267.74 L304.88,266.34 L305.06,264.95 L305.24,263.55 L305.43,262.16 L305.62,260.76 L305.82,259.37 L306.01,257.97 L306.21,256.58 L306.41,255.19 L306.62,253.8 L306.83,252.4 L307.04,251.01 L307.26,249.62 L307.48,248.23 L307.71,246.84 L307.93,245.45 L308.17,244.07 L308.4,242.68 L308.65,241.29 L308.89,239.91 L309.14,238.52 L309.39,237.13 L309.64,235.75 L309.9,234.37 L310.17,232.98 L310.43,231.6 L310.7,230.22 L310.97,228.84 L311.25,227.46 L311.53,226.08 L311.81,224.7 L312.1,223.32 L312.39,221.94 L312.68,220.56 L312.98,219.19 L313.27,217.81 L313.58,216.43 L313.88,215.06 L314.19,213.69 L314.5,212.31 L314.82,210.94 L315.14,209.57 L315.46,208.2 L315.79,206.83 L316.12,205.46 L316.46,204.1 L316.8,202.73 L317.15,201.37 L317.5,200 L317.86,198.64 L318.22,197.28 L318.59,195.92 L318.96,194.56 L319.33,193.21 L319.71,191.85 L320.1,190.5 L320.48,189.14 L320.87,187.79 L321.25,186.44 L321.64,185.08 L322.02,183.73 L322.4,182.37 L322.77,181.01 L323.14,179.65 L323.51,178.3 L323.86,176.93 L324.21,175.57 L324.55,174.2 L324.88,172.83 L325.2,171.46 L325.51,170.09 L325.82,168.72 L326.13,167.34 L326.43,165.97 L326.73,164.59 L327.04,163.22 L327.35,161.84 L327.66,160.47 L327.98,159.1 L328.3,157.74 L328.64,156.37 L328.98,155.01 L329.33,153.65 L329.69,152.29 L330.05,150.93 L330.42,149.57 L330.79,148.22 L331.18,146.86 L331.56,145.51 L331.96,144.15 L332.36,142.8 L332.76,141.44 L333.17,140.08 L333.58,138.73 L334.01,137.38 L334.46,136.03 L334.93,134.7 L335.42,133.38 L335.95,132.08 L336.51,130.79 L337.12,129.53 L337.77,128.29 L338.47,127.08 L339.23,125.9 L340.07,124.77 L340.99,123.69 L342,122.67 L343.11,121.71 L344.31,120.86 L345.58,120.18 L346.91,119.74 L348.26,119.59 L349.61,119.75 L350.95,120.17 L352.27,120.8 L353.55,121.57 L354.77,122.42 L355.91,123.32 L357,124.25 L358.02,125.22 L358.99,126.23 L359.91,127.27 L360.79,128.34 L361.64,129.44 L362.46,130.58 L363.24,131.74 L364.01,132.92 L364.74,134.13 L365.46,135.35 L366.15,136.59 L366.83,137.83 L367.5,139.08 L368.15,140.33 L368.8,141.59 L369.43,142.85 L370.06,144.11 L370.68,145.37 L371.3,146.63 L371.91,147.9 L372.52,149.16 L373.13,150.43 L373.74,151.69 L374.36,152.96 L374.97,154.22 L375.59,155.48 L376.21,156.75 L376.83,158.01 L377.46,159.27 L378.08,160.53 L378.7,161.79 L379.33,163.05 L379.96,164.31 L380.59,165.57 L381.21,166.83 L381.84,168.1 L382.47,169.36 L383.1,170.62 L383.73,171.88 L384.36,173.14 L384.99,174.4 L385.61,175.66 L386.24,176.92 L386.86,178.18 L387.49,179.45 L388.11,180.71 L388.73,181.97 L389.35,183.24 L389.97,184.5 L390.59,185.76 L391.21,187.03 L391.83,188.3 L392.44,189.56 L393.05,190.83 L393.67,192.1 L394.28,193.37 L394.89,194.63 L395.49,195.9 L396.1,197.17 L396.71,198.44 L397.31,199.72 L397.91,200.99 L398.51,202.26 L399.11,203.53 L399.71,204.81 L400.31,206.08 L400.9,207.36 L401.5,208.63 L402.09,209.91 L402.68,211.19 L403.27,212.47 L403.86,213.74 L404.44,215.02 L405.03,216.3 L405.62,217.58 L406.2,218.86 L406.78,220.14 L407.37,221.43 L407.95,222.71 L408.53,223.99 L409.11,225.27 L409.68,226.56 L410.26,227.84 L410.84,229.13 L411.42,230.41 L411.99,231.69 L412.57,232.98 L413.14,234.26 L413.72,235.55 L414.29,236.84 L414.86,238.12 L415.44,239.41 L416.01,240.69 L416.58,241.98 L417.15,243.27 L417.72,244.55 L418.3,245.84 L418.87,247.13 L419.44,248.41 L420.01,249.7" stroke="#00f" stroke-width="2.5" stroke-dasharray="1.2 2.7" stroke-dashoffset="0"/>
<path d="M286,520 L286.07,519.12 L286.15,518.25 L286.22,517.37 L286.3,516.49 L286.37,515.62 L286.44,514.74 L286.52,513.87 L286.59,512.99 L286.67,512.11 L286.74,511.24 L286.82,510.36 L286.89,509.48 L286.96,508.61 L287.04,507.73 L287.11,506.85 L287.19,505.98 L287.26,505.1 L287.34,504.22 L287.41,503.35 L287.49,502.47 L287.56,501.59 L287.64,500.72 L287.71,499.84 L287.79,498.97 L287.86,498.09 L287.94,497.21 L288.02,496.34 L288.09,495.46 L288.17,494.58 L288.25,493.71 L288.32,492.83 L288.4,491.95 L288.48,491.08 L288.56,490.2 L288.64,489.32 L288.72,488.45 L288.8,487.57 L288.88,486.69 L288.96,485.82 L289.04,484.94 L289.13,484.07 L289.21,483.19 L289.3,482.32 L289.38,481.44 L289.47,480.56 L289.56,479.69 L289.65,478.81 L289.74,477.94 L289.83,477.06 L289.92,476.19 L290.01,475.31 L290.11,474.44 L290.2,473.57 L290.3,472.69 L290.4,471.82 L290.5,470.94 L290.6,470.07 L290.7,469.2 L290.8,468.32 L290.91,467.45 L291.01,466.58 L291.12,465.7 L291.23,464.83 L291.34,463.96 L291.46,463.09 L291.57,462.22 L291.69,461.34 L291.81,460.47 L291.93,459.6 L292.05,458.73 L292.17,457.86 L292.3,456.99 L292.42,456.12 L292.55,455.25 L292.68,454.38 L292.8,453.51 L292.93,452.64 L293.07,451.77 L293.2,450.9 L293.33,450.03 L293.46,449.16 L293.6,448.29 L293.73,447.43 L293.87,446.56 L294,445.69 L294.14,444.82 L294.27,443.95 L294.41,443.08 L294.54,442.21 L294.68,441.34 L294.81,440.47 L294.95,439.6 L295.08,438.73 L295.22,437.86 L295.35,436.99 L295.48,436.12 L295.62,435.25 L295.75,434.38 L295.88,433.51 L296.01,432.64 L296.14,431.77 L296.27,430.9 L296.4,430.03 L296.52,429.16 L296.65,428.29 L296.77,427.42 L296.89,426.54 L297.02,425.67 L297.14,424.8 L297.26,423.93 L297.38,423.06 L297.51,422.18 L297.63,421.31 L297.75,420.44 L297.88,419.57 L298,418.7 L298.13,417.83 L298.26,416.96 L298.39,416.08 L298.52,415.21 L298.65,414.34 L298.78,413.47 L298.92,412.61 L299.06,411.74 L299.2,410.87 L299.34,410 L299.49,409.13 L299.63,408.27 L299.79,407.4 L299.94,406.53 L300.1,405.67 L300.26,404.81 L300.43,403.94 L300.6,403.08 L300.78,402.22 L300.95,401.36 L301.14,400.5 L301.33,399.64 L301.52,398.78 L301.72,397.92 L301.92,397.07 L302.13,396.21 L302.34,395.36 L302.56,394.51 L302.78,393.65 L303.01,392.8 L303.25,391.95 L303.48,391.11 L303.73,390.26 L303.97,389.41 L304.22,388.57 L304.48,387.73 L304.74,386.89 L305,386.05 L305.27,385.21 L305.54,384.37 L305.82,383.54 L306.1,382.7 L306.39,381.87 L306.67,381.04 L306.97,380.21 L307.26,379.38 L307.56,378.56 L307.87,377.73 L308.18,376.91 L308.49,376.1 L308.82,375.28 L309.16,374.47 L309.51,373.67 L309.88,372.88 L310.27,372.09 L310.67,371.31 L311.09,370.54 L311.54,369.78 L312,369.03 L312.5,368.29 L313.02,367.56 L313.57,366.84 L314.15,366.14 L314.76,365.45 L315.41,364.78 L316.09,364.12 L316.79,363.5 L317.53,362.92 L318.28,362.39 L319.05,361.91 L319.84,361.5 L320.65,361.16 L321.46,360.91 L322.28,360.74 L323.1,360.68 L323.92,360.72 L324.74,360.86 L325.56,361.08 L326.37,361.37 L327.18,361.74 L327.97,362.17 L328.76,362.66 L329.53,363.2 L330.29,363.78 L331.03,364.39 L331.75,365.02 L332.46,365.68 L333.14,366.34 L333.8,367.01 L334.43,367.68 L335.05,368.35 L335.64,369.03 L336.22,369.71 L336.77,370.39 L337.32,371.08 L337.84,371.77 L338.36,372.47 L338.86,373.18 L339.35,373.88 L339.83,374.6 L340.3,375.31 L340.76,376.04 L341.22,376.77 L341.67,377.51 L342.12,378.25 L342.56,378.99 L343,379.75 L343.44,380.5 L343.88,381.27 L344.31,382.03 L344.73,382.8 L345.16,383.57 L345.58,384.35 L346,385.12 L346.42,385.9 L346.84,386.68 L347.26,387.46 L347.67,388.25 L348.09,389.03 L348.5,389.81 L348.92,390.59 L349.33,391.37 L349.75,392.16 L350.16,392.93 L350.58,393.71 L351,394.49 L351.41,395.27 L351.83,396.04 L352.25,396.82 L352.66,397.59 L353.08,398.37 L353.49,399.15 L353.9,399.92 L354.32,400.7 L354.73,401.47 L355.14,402.25 L355.55,403.03 L355.95,403.8 L356.36,404.58 L356.76,405.36 L357.16,406.14 L357.56,406.92 L357.96,407.71 L358.35,408.49 L358.75,409.28 L359.14,410.07 L359.53,410.86 L359.91,411.65 L360.3,412.44 L360.68,413.23 L361.06,414.02 L361.45,414.81 L361.83,415.61 L362.2,416.4 L362.58,417.2 L362.96,417.99 L363.33,418.79 L363.71,419.59 L364.08,420.38 L364.45,421.18 L364.82,421.98 L365.2,422.78 L365.57,423.57 L365.94,424.37 L366.31,425.17 L366.68,425.97 L367.05,426.77 L367.41,427.57 L367.78,428.36 L368.15,429.16 L368.52,429.96 L368.88,430.76 L369.25,431.56 L369.61,432.36 L369.98,433.16 L370.35,433.96 L370.71,434.76 L371.08,435.56 L371.44,436.36 L371.81,437.16 L372.17,437.96 L372.54,438.76 L372.9,439.56 L373.27,440.36 L373.63,441.16 L373.99,441.96 L374.36,442.76 L374.72,443.56 L375.09,444.36 L375.45,445.16 L375.82,445.96 L376.18,446.77 L376.55,447.57 L376.91,448.37 L377.28,449.17 L377.64,449.97 L378.01,450.77 L378.37,451.57 L378.74,452.37 L379.1,453.17 L379.47,453.97 L379.83,454.77 L380.2,455.57 L380.56,456.37 L380.93,457.17 L381.29,457.97 L381.66,458.77 L382.02,459.57 L382.39,460.37 L382.75,461.17 L383.12,461.97 L383.49,462.77 L383.85,463.57 L384.22,464.37 L384.58,465.17 L384.95,465.97 L385.32,466.77 L385.68,467.57 L386.05,468.37 L386.42,469.17 L386.78,469.97 L387.15,470.77 L387.52,471.57 L387.89,472.36 L388.25,473.16 L388.62,473.96 L388.99,474.76 L389.36,475.56 L389.72,476.36 L390.09,477.16 L390.46,477.96 L390.83,478.76 L391.2,479.56 L391.57,480.35 L391.93,481.15 L392.3,481.95 L392.67,482.75 L393.04,483.55 L393.41,484.35 L393.78,485.15 L394.15,485.95 L394.51,486.74 L394.88,487.54 L395.25,488.34 L395.62,489.14 L395.99,489.94 L396.36,490.74 L396.73,491.54 L397.09,492.33 L397.46,493.13 L397.83,493.93 L398.2,494.73 L398.57,495.53 L398.94,496.33 L399.31,497.13 L399.67,497.92 L400.04,498.72 L400.41,499.52 L400.78,500.32 L401.15,501.12 L401.51,501.92 L401.88,502.72 L402.25,503.52 L402.62,504.32 L402.99,505.11 L403.35,505.91 L403.72,506.71 L404.09,507.51 L404.46,508.31 L404.82,509.11 L405.19,509.91 L405.56,510.71 L405.93,511.51 L406.29,512.31 L406.66,513.11 L407.03,513.91 L407.4,514.7 L407.76,515.5 L408.13,516.3 L408.5,517.1 L408.87,517.9 L409.23,518.7 L409.6,519.5" stroke="#f00" stroke-width="2.5"/>
<path d="M271.6,520 L271.71,517.6 L271.82,515.21 L271.92,512.81 L272.03,510.42 L272.14,508.02 L272.25,505.62 L272.35,503.23 L272.46,500.83 L272.57,498.44 L272.68,496.04 L272.79,493.64 L272.9,491.25 L273.01,488.85 L273.12,486.46 L273.23,484.06 L273.34,481.66 L273.45,479.27 L273.56,476.87 L273.67,474.48 L273.79,472.08 L273.9,469.68 L274.01,467.29 L274.13,464.89 L274.24,462.5 L274.36,460.1 L274.48,457.71 L274.6,455.31 L274.71,452.91 L274.83,450.52 L274.95,448.12 L275.08,445.73 L275.2,443.33 L275.32,440.94 L275.45,438.54 L275.57,436.15 L275.7,433.75 L275.83,431.36 L275.96,428.96 L276.09,426.57 L276.22,424.17 L276.35,421.78 L276.48,419.38 L276.62,416.99 L276.75,414.59 L276.89,412.2 L277.02,409.8 L277.16,407.41 L277.3,405.01 L277.44,402.62 L277.58,400.23 L277.72,397.83 L277.85,395.44 L277.99,393.04 L278.13,390.65 L278.27,388.25 L278.41,385.86 L278.55,383.46 L278.69,381.07 L278.83,378.67 L278.97,376.28 L279.11,373.89 L279.25,371.49 L279.38,369.1 L279.52,366.7 L279.66,364.31 L279.79,361.91 L279.93,359.52 L280.06,357.12 L280.19,354.73 L280.33,352.33 L280.46,349.94 L280.59,347.54 L280.72,345.15 L280.86,342.75 L280.99,340.36 L281.12,337.96 L281.25,335.57 L281.39,333.17 L281.52,330.78 L281.65,328.38 L281.79,325.99 L281.92,323.6 L282.06,321.2 L282.2,318.81 L282.34,316.41 L282.48,314.02 L282.62,311.62 L282.77,309.23 L282.91,306.83 L283.06,304.44 L283.21,302.05 L283.36,299.65 L283.52,297.26 L283.67,294.87 L283.83,292.47 L283.99,290.08 L284.16,287.69 L284.33,285.29 L284.5,282.9 L284.67,280.51 L284.85,278.12 L285.03,275.73 L285.21,273.33 L285.4,270.94 L285.59,268.55 L285.78,266.16 L285.98,263.77 L286.18,261.38 L286.39,258.99 L286.6,256.6 L286.81,254.21 L287.03,251.82 L287.25,249.44 L287.48,247.05 L287.71,244.66 L287.94,242.27 L288.17,239.89 L288.4,237.5 L288.63,235.11 L288.86,232.72 L289.09,230.34 L289.31,227.95 L289.52,225.56 L289.73,223.17 L289.94,220.78 L290.13,218.39 L290.32,216 L290.5,213.61 L290.67,211.21 L290.85,208.82 L291.03,206.43 L291.21,204.04 L291.39,201.65 L291.58,199.26 L291.78,196.87 L291.99,194.48 L292.21,192.09 L292.45,189.7 L292.7,187.31 L292.96,184.93 L293.23,182.55 L293.52,180.16 L293.81,177.78 L294.13,175.41 L294.45,173.03 L294.79,170.66 L295.15,168.28 L295.51,165.91 L295.88,163.54 L296.25,161.17 L296.63,158.8 L297,156.44 L297.37,154.07 L297.74,151.7 L298.1,149.32 L298.45,146.95 L298.8,144.58 L299.15,142.21 L299.5,139.84 L299.85,137.46 L300.21,135.09 L300.56,132.72 L300.93,130.35 L301.3,127.97 L301.68,125.6 L302.07,123.24 L302.48,120.87 L302.92,118.51 L303.39,116.16 L303.89,113.81 L304.43,111.48 L305.02,109.15 L305.65,106.84 L306.3,104.53 L306.96,102.23 L307.62,99.92 L308.27,97.6 L308.92,95.29 L309.58,92.99 L310.29,90.7 L311.03,88.42 L311.85,86.16 L312.73,83.93 L313.66,81.72 L314.65,79.53 L315.68,77.37 L316.82,75.26 L318.18,73.28 L319.85,71.47 L321.86,69.98 L324.11,69.1 L326.49,69.15 L328.73,70.01 L330.74,71.33 L332.56,72.9 L334.23,74.62 L335.78,76.45 L337.26,78.34 L338.66,80.28 L340.02,82.26 L341.33,84.27 L342.61,86.3 L343.85,88.35 L345.06,90.42 L346.25,92.5 L347.42,94.6 L348.58,96.7 L349.72,98.81 L350.84,100.93 L351.95,103.06 L353.05,105.19 L354.14,107.32 L355.23,109.46 L356.3,111.61 L357.37,113.76 L358.43,115.91 L359.48,118.06 L360.53,120.22 L361.58,122.38 L362.61,124.54 L363.65,126.7 L364.68,128.87 L365.71,131.03 L366.74,133.2 L367.76,135.37 L368.78,137.54 L369.8,139.71 L370.82,141.89 L371.83,144.06 L372.84,146.23 L373.85,148.41 L374.86,150.59 L375.87,152.76 L376.87,154.94 L377.88,157.12 L378.88,159.3 L379.88,161.48 L380.88,163.66 L381.88,165.84 L382.88,168.02 L383.88,170.2 L384.87,172.38 L385.87,174.56 L386.87,176.75 L387.86,178.93 L388.86,181.11 L389.85,183.29 L390.85,185.48 L391.84,187.66 L392.83,189.84 L393.83,192.02 L394.82,194.21 L395.81,196.39 L396.81,198.57 L397.8,200.76 L398.79,202.94 L399.78,205.13 L400.78,207.31 L401.77,209.49 L402.76,211.68 L403.75,213.86 L404.74,216.05 L405.73,218.23 L406.72,220.41 L407.71,222.6 L408.7,224.78 L409.69,226.97 L410.68,229.15 L411.67,231.34 L412.66,233.52 L413.65,235.71 L414.64,237.89 L415.63,240.08 L416.62,242.26 L417.61,244.44 L418.6,246.63 L419.59,248.81 L420.58,251 L421.57,253.18 L422.56,255.37 L423.55,257.56 L424.54,259.74 L425.53,261.93 L426.51,264.11 L427.5,266.3 L428.49,268.48 L429.48,270.67 L430.47,272.85 L431.46,275.04 L432.45,277.22 L433.43,279.41 L434.42,281.59 L435.41,283.78 L436.4,285.96 L437.39,288.15 L438.38,290.33 L439.37,292.52 L440.36,294.7 L441.34,296.89 L442.33,299.07 L443.32,301.26 L444.31,303.45 L445.3,305.63 L446.29,307.82 L447.28,310 L448.26,312.19 L449.25,314.37 L450.24,316.56 L451.23,318.74 L452.22,320.93 L453.21,323.11 L454.2,325.3 L455.18,327.48 L456.17,329.67 L457.16,331.85 L458.15,334.04 L459.14,336.22 L460.13,338.41 L461.12,340.6 L462.1,342.78 L463.09,344.97 L464.08,347.15 L465.07,349.34 L466.06,351.52 L467.05,353.71 L468.04,355.89 L469.02,358.08 L470.01,360.26 L471,362.45 L471.99,364.63 L472.98,366.82 L473.97,369 L474.95,371.19 L475.94,373.38 L476.93,375.56 L477.92,377.75 L478.91,379.93 L479.9,382.12 L480.88,384.3 L481.87,386.49 L482.86,388.67 L483.85,390.86 L484.84,393.04 L485.83,395.23 L486.81,397.41 L487.8,399.6 L488.79,401.79 L489.78,403.97 L490.77,406.16 L491.76,408.34 L492.75,410.53 L493.73,412.71 L494.72,414.9 L495.71,417.08 L496.7,419.27 L497.69,421.45 L498.68,423.64 L499.66,425.82 L500.65,428.01 L501.64,430.2 L502.63,432.38 L503.62,434.57 L504.61,436.75 L505.6,438.94 L506.58,441.12 L507.57,443.31 L508.56,445.49 L509.55,447.68 L510.54,449.86 L511.53,452.05 L512.52,454.23 L513.51,456.42 L514.5,458.6 L515.48,460.79 L516.47,462.97 L517.46,465.16 L518.45,467.34 L519.44,469.53 L520.43,471.71 L521.42,473.9 L522.41,476.08 L523.39,478.27 L524.38,480.45 L525.37,482.64 L526.36,484.83 L527.35,487.01 L528.34,489.2 L529.33,491.38 L530.32,493.57 L531.3,495.75 L532.29,497.94 L533.28,500.12 L534.27,502.31 L535.26,504.49 L536.25,506.68 L537.24,508.86 L538.22,511.05 L539.21,513.23 L540.2,515.42" stroke="#00f" stroke-width="2.5"/>
</g>
<path d="M78.5,2.5H565.5V499.5H78.5ZM78.5,499.5v-9.5M78.5,2.5v9.5M139.5,499.5v-5M139.5,2.5v5M200.5,499.5v-9.5M200.5,2.5v9.5M261.35,499.5v-5M261.35,2.5v5M322.45,499.5v-9.5M322.45,2.5v9.5M383.25,499.5v-5M383.25,2.5v5M444,499.5v-9.5M444,2.5v9.5M504.5,499.5v-5M504.5,2.5v5M565.5,499.5v-9.5M565.5,2.5v9.5M78.5,2.5h5.4M565.5,2.5h-5.4M78.5,47.68h10.1M565.5,47.68h-10.1M78.5,92.86h5.4M565.5,92.86h-5.4M78.5,138.05h10.1M565.5,138.05h-10.1M78.5,183.23h5.4M565.5,183.23h-5.4M78.5,228.41h10.1M565.5,228.41h-10.1M78.5,273.59h5.4M565.5,273.59h-5.4M78.5,318.77h10.1M565.5,318.77h-10.1M78.5,363.95h5.4M565.5,363.95h-5.4M78.5,409.14h10.1M565.5,409.14h-10.1M78.5,454.32h5.4M565.5,454.32h-5.4M78.5,499.5h10.1M565.5,499.5h-10.1" fill="none" stroke="#000" stroke-width="0.4"/>
<g stroke="#000" stroke-width="2.4" fill="none">
<path d="M97,25.9H144.8"/>
<path d="M97,47.5H144.8" stroke-dasharray="5.8 5.3"/>
<path d="M97,69.3H144.8" stroke-dasharray="1.2 2.7"/>
</g>
<path d="M150.87,25.36 L151.32,24 L152.23,23.09 L153.14,22.63 L154.5,22.63 L155.41,23.09 L155.87,23.54 L156.32,24.45 L156.32,25.36 L150.87,25.36 L150.87,26.27 L151.32,27.64 L152.23,28.55 L153.14,29 L154.5,29 L155.41,28.55 L156.32,27.64 M159.51,19.45 L159.51,29 M162.69,25.36 L163.15,24 L164.06,23.09 L164.97,22.63 L166.34,22.63 L167.25,23.09 L167.7,23.54 L168.16,24.45 L168.16,25.36 L162.69,25.36 L162.69,26.27 L163.15,27.64 L164.06,28.55 L164.97,29 L166.34,29 L167.25,28.55 L168.16,27.64 M176.34,27.64 L175.44,28.55 L174.53,29 L173.16,29 L172.25,28.55 L171.34,27.64 L170.88,26.27 L170.88,25.36 L171.34,24 L172.25,23.09 L173.16,22.63 L174.53,22.63 L175.44,23.09 L176.34,24 M179.99,19.45 L179.99,27.18 L180.44,28.55 L181.35,29 L182.26,29 M178.62,22.63 L181.81,22.63 M184.99,22.63 L184.99,29 M184.99,25.36 L185.44,24 L186.36,23.09 L187.26,22.63 L188.63,22.63 M192.72,29 L191.81,28.55 L190.91,27.64 L190.45,26.27 L190.45,25.36 L190.91,24 L191.81,23.09 L192.72,22.63 L194.09,22.63 L195,23.09 L195.91,24 L196.37,25.36 L196.37,26.27 L195.91,27.64 L195,28.55 L194.09,29 L192.72,29 M199.55,22.63 L199.55,29 M199.55,24.45 L200.92,23.09 L201.82,22.63 L203.19,22.63 L204.1,23.09 L204.56,24.45 L204.56,29 M207.74,27.64 L208.19,28.55 L209.56,29 L210.93,29 L212.29,28.55 L212.75,27.64 L212.75,27.18 L212.29,26.27 L211.38,25.82 L209.1,25.36 L208.19,24.91 L207.74,24 L208.19,23.09 L209.56,22.63 L210.93,22.63 L212.29,23.09 L212.75,24 M151.32,43.63 L151.32,53.19 M151.32,44.99 L152.23,44.09 L153.14,43.63 L154.5,43.63 L155.41,44.09 L156.32,44.99 L156.78,46.36 L156.78,47.27 L156.32,48.63 L155.41,49.55 L154.5,50 L153.14,50 L152.23,49.55 L151.32,48.63 M159.97,43.63 L159.97,50 M159.97,46.36 L160.42,44.99 L161.33,44.09 L162.24,43.63 L163.6,43.63 M167.7,50 L166.79,49.55 L165.88,48.63 L165.43,47.27 L165.43,46.36 L165.88,44.99 L166.79,44.09 L167.7,43.63 L169.06,43.63 L169.97,44.09 L170.88,44.99 L171.34,46.36 L171.34,47.27 L170.88,48.63 L169.97,49.55 L169.06,50 L167.7,50 M174.98,40.45 L174.98,48.18 L175.44,49.55 L176.34,50 L177.25,50 M173.62,43.63 L176.8,43.63 M181.81,50 L180.9,49.55 L179.99,48.63 L179.53,47.27 L179.53,46.36 L179.99,44.99 L180.9,44.09 L181.81,43.63 L183.17,43.63 L184.08,44.09 L184.99,44.99 L185.44,46.36 L185.44,47.27 L184.99,48.63 L184.08,49.55 L183.17,50 L181.81,50 M188.63,43.63 L188.63,50 M188.63,45.45 L190,44.09 L190.91,43.63 L192.27,43.63 L193.18,44.09 L193.63,45.45 L193.63,50 M196.82,48.63 L197.28,49.55 L198.64,50 L200,50 L201.37,49.55 L201.82,48.63 L201.82,48.18 L201.37,47.27 L200.46,46.81 L198.19,46.36 L197.28,45.91 L196.82,44.99 L197.28,44.09 L198.64,43.63 L200,43.63 L201.37,44.09 L201.82,44.99 M151.32,65.23 L151.32,74.78 M151.32,66.59 L152.23,65.68 L153.14,65.23 L154.5,65.23 L155.41,65.68 L156.32,66.59 L156.78,67.96 L156.78,68.87 L156.32,70.23 L155.41,71.14 L154.5,71.6 L153.14,71.6 L152.23,71.14 L151.32,70.23 M161.78,71.6 L160.88,71.14 L159.97,70.23 L159.51,68.87 L159.51,67.96 L159.97,66.59 L160.88,65.68 L161.78,65.23 L163.15,65.23 L164.06,65.68 L164.97,66.59 L165.43,67.96 L165.43,68.87 L164.97,70.23 L164.06,71.14 L163.15,71.6 L161.78,71.6 M168.16,70.23 L168.61,71.14 L169.97,71.6 L171.34,71.6 L172.7,71.14 L173.16,70.23 L173.16,69.78 L172.7,68.87 L171.79,68.41 L169.52,67.96 L168.61,67.5 L168.16,66.59 L168.61,65.68 L169.97,65.23 L171.34,65.23 L172.7,65.68 L173.16,66.59 M176.8,62.04 L176.34,61.59 L175.89,62.04 L176.34,62.5 L176.8,62.04 M176.34,65.23 L176.34,71.6 M180.44,62.04 L180.44,69.78 L180.9,71.14 L181.81,71.6 L182.72,71.6 M179.07,65.23 L182.26,65.23 M185.44,65.23 L185.44,71.6 M185.44,67.96 L185.9,66.59 L186.81,65.68 L187.72,65.23 L189.09,65.23 M193.18,71.6 L192.27,71.14 L191.36,70.23 L190.91,68.87 L190.91,67.96 L191.36,66.59 L192.27,65.68 L193.18,65.23 L194.55,65.23 L195.45,65.68 L196.37,66.59 L196.82,67.96 L196.82,68.87 L196.37,70.23 L195.45,71.14 L194.55,71.6 L193.18,71.6 M200,65.23 L200,71.6 M200,67.05 L201.37,65.68 L202.28,65.23 L203.65,65.23 L204.56,65.68 L205.01,67.05 L205.01,71.6 M208.19,70.23 L208.65,71.14 L210.01,71.6 L211.38,71.6 L212.75,71.14 L213.2,70.23 L213.2,69.78 L212.75,68.87 L211.84,68.41 L209.56,67.96 L208.65,67.5 L208.19,66.59 L208.65,65.68 L210.01,65.23 L211.38,65.23 L212.75,65.68 L213.2,66.59" fill="none" stroke="#000" stroke-width="1.05" stroke-linecap="round" stroke-linejoin="round"/>
<path d="M474.22,40.8 L474.22,31.24 L478.31,31.24 L479.68,31.7 L480.13,32.16 L480.59,33.06 L480.59,33.97 L480.13,34.88 L479.68,35.34 L478.31,35.79 L474.22,35.79 M477.4,35.79 L480.59,40.8 M484.23,31.24 L483.77,30.79 L483.32,31.24 L483.77,31.7 L484.23,31.24 M483.77,34.43 L483.77,40.8 M492.42,39.43 L491.51,40.34 L490.6,40.8 L489.23,40.8 L488.32,40.34 L487.41,39.43 L486.96,38.07 L486.96,37.16 L487.41,35.79 L488.32,34.88 L489.23,34.43 L490.6,34.43 L491.51,34.88 L492.42,35.79 M492.42,34.43 L492.42,41.71 L491.96,43.07 L491.51,43.53 L490.6,43.98 L489.23,43.98 L488.32,43.53 M496.06,31.24 L496.06,40.8 M496.06,36.25 L497.42,34.88 L498.33,34.43 L499.7,34.43 L500.61,34.88 L501.06,36.25 L501.06,40.8 M505.16,31.24 L505.16,38.98 L505.61,40.34 L506.52,40.8 L507.43,40.8 M503.79,34.43 L506.98,34.43 M517.44,34.43 L517.44,40.8 M517.44,36.25 L518.81,34.88 L519.72,34.43 L521.09,34.43 L522,34.88 L522.45,36.25 L523.81,34.88 L524.73,34.43 L526.09,34.43 L527,34.88 L527.45,36.25 L527.45,40.8 M522.45,36.25 L522.45,40.8 M532.91,40.8 L532,40.34 L531.1,39.43 L530.64,38.07 L530.64,37.16 L531.1,35.79 L532,34.88 L532.91,34.43 L534.28,34.43 L535.19,34.88 L536.1,35.79 L536.55,37.16 L536.55,38.07 L536.1,39.43 L535.19,40.34 L534.28,40.8 L532.91,40.8 M544.75,31.24 L544.75,40.8 M544.75,39.43 L543.84,40.34 L542.92,40.8 L541.56,40.8 L540.65,40.34 L539.74,39.43 L539.28,38.07 L539.28,37.16 L539.74,35.79 L540.65,34.88 L541.56,34.43 L542.92,34.43 L543.84,34.88 L544.75,35.79 M547.93,37.16 L548.38,35.79 L549.29,34.88 L550.2,34.43 L551.57,34.43 L552.48,34.88 L552.93,35.34 L553.39,36.25 L553.39,37.16 L547.93,37.16 L547.93,38.07 L548.38,39.43 L549.29,40.34 L550.2,40.8 L551.57,40.8 L552.48,40.34 L553.39,39.43" fill="none" stroke="#00f" stroke-width="1.05" stroke-linecap="round" stroke-linejoin="round"/>
<path d="M474.22,178.25 L474.22,187.8 L479.68,187.8 M481.5,184.16 L481.95,182.8 L482.86,181.89 L483.77,181.43 L485.14,181.43 L486.05,181.89 L486.5,182.34 L486.96,183.25 L486.96,184.16 L481.5,184.16 L481.5,185.07 L481.95,186.44 L482.86,187.34 L483.77,187.8 L485.14,187.8 L486.05,187.34 L486.96,186.44 M490.6,187.8 L490.6,180.06 L491.05,178.7 L491.96,178.25 L492.88,178.25 M489.23,181.43 L492.42,181.43 M496.06,178.25 L496.06,185.98 L496.51,187.34 L497.42,187.8 L498.33,187.8 M494.69,181.43 L497.88,181.43 M508.34,181.43 L508.34,187.8 M508.34,183.25 L509.71,181.89 L510.62,181.43 L511.98,181.43 L512.89,181.89 L513.35,183.25 L514.71,181.89 L515.62,181.43 L516.99,181.43 L517.9,181.89 L518.36,183.25 L518.36,187.8 M513.35,183.25 L513.35,187.8 M523.81,187.8 L522.9,187.34 L522,186.44 L521.54,185.07 L521.54,184.16 L522,182.8 L522.9,181.89 L523.81,181.43 L525.18,181.43 L526.09,181.89 L527,182.8 L527.45,184.16 L527.45,185.07 L527,186.44 L526.09,187.34 L525.18,187.8 L523.81,187.8 M535.64,178.25 L535.64,187.8 M535.64,186.44 L534.74,187.34 L533.82,187.8 L532.46,187.8 L531.55,187.34 L530.64,186.44 L530.18,185.07 L530.18,184.16 L530.64,182.8 L531.55,181.89 L532.46,181.43 L533.82,181.43 L534.74,181.89 L535.64,182.8 M538.83,184.16 L539.28,182.8 L540.19,181.89 L541.11,181.43 L542.47,181.43 L543.38,181.89 L543.84,182.34 L544.29,183.25 L544.29,184.16 L538.83,184.16 L538.83,185.07 L539.28,186.44 L540.19,187.34 L541.11,187.8 L542.47,187.8 L543.38,187.34 L544.29,186.44" fill="none" stroke="#f00" stroke-width="1.05" stroke-linecap="round" stroke-linejoin="round"/>
<path d="M66,523.1 L66,512.18 L64.44,513.74 L63.4,514.26 M75.36,523.1 L73.8,522.58 L72.76,521.02 L72.24,518.42 L72.24,516.86 L72.76,514.26 L73.8,512.7 L75.36,512.18 L76.4,512.18 L77.96,512.7 L79,514.26 L79.52,516.86 L79.52,518.42 L79,521.02 L77.96,522.58 L76.4,523.1 L75.36,523.1 M82.37,512.4 L88.18,512.4 M93.66,515.3 L93.66,508.53 L90.43,513.04 L95.27,513.04 M187.75,523.1 L187.75,512.18 L186.19,513.74 L185.15,514.26 M197.11,523.1 L195.55,522.58 L194.51,521.02 L193.99,518.42 L193.99,516.86 L194.51,514.26 L195.55,512.7 L197.11,512.18 L198.15,512.18 L199.71,512.7 L200.75,514.26 L201.27,516.86 L201.27,518.42 L200.75,521.02 L199.71,522.58 L198.15,523.1 L197.11,523.1 M204.12,512.4 L209.93,512.4 M212.51,510.14 L212.51,509.82 L212.83,509.17 L213.15,508.85 L213.8,508.53 L215.09,508.53 L215.73,508.85 L216.05,509.17 L216.38,509.82 L216.38,510.46 L216.05,511.11 L215.41,512.08 L212.18,515.3 L216.7,515.3 M313.7,523.1 L313.7,512.18 L312.14,513.74 L311.1,514.26 M323.06,523.1 L321.5,522.58 L320.46,521.02 L319.94,518.42 L319.94,516.86 L320.46,514.26 L321.5,512.7 L323.06,512.18 L324.1,512.18 L325.66,512.7 L326.7,514.26 L327.22,516.86 L327.22,518.42 L326.7,521.02 L325.66,522.58 L324.1,523.1 L323.06,523.1 M331.68,515.3 L330.71,514.98 L330.07,514.01 L329.74,512.4 L329.74,511.43 L330.07,509.82 L330.71,508.85 L331.68,508.53 L332.32,508.53 L333.29,508.85 L333.93,509.82 L334.26,511.43 L334.26,512.4 L333.93,514.01 L333.29,514.98 L332.32,515.3 L331.68,515.3 M435.45,523.1 L435.45,512.18 L433.89,513.74 L432.85,514.26 M444.81,523.1 L443.25,522.58 L442.21,521.02 L441.69,518.42 L441.69,516.86 L442.21,514.26 L443.25,512.7 L444.81,512.18 L445.85,512.18 L447.41,512.7 L448.45,514.26 L448.97,516.86 L448.97,518.42 L448.45,521.02 L447.41,522.58 L445.85,523.1 L444.81,523.1 M451.82,510.14 L451.82,509.82 L452.14,509.17 L452.46,508.85 L453.11,508.53 L454.39,508.53 L455.04,508.85 L455.36,509.17 L455.68,509.82 L455.68,510.46 L455.36,511.11 L454.72,512.08 L451.49,515.3 L456.01,515.3 M557.2,523.1 L557.2,512.18 L555.64,513.74 L554.6,514.26 M566.56,523.1 L565,522.58 L563.96,521.02 L563.44,518.42 L563.44,516.86 L563.96,514.26 L565,512.7 L566.56,512.18 L567.6,512.18 L569.16,512.7 L570.2,514.26 L570.72,516.86 L570.72,518.42 L570.2,521.02 L569.16,522.58 L567.6,523.1 L566.56,523.1 M576.47,515.3 L576.47,508.53 L573.24,513.04 L578.08,513.04 M52.17,54.08 L52.17,43.16 L50.61,44.72 L49.57,45.24 M61.53,54.08 L59.97,53.56 L58.93,52 L58.41,49.4 L58.41,47.84 L58.93,45.24 L59.97,43.68 L61.53,43.16 L62.57,43.16 L64.13,43.68 L65.17,45.24 L65.69,47.84 L65.69,49.4 L65.17,52 L64.13,53.56 L62.57,54.08 L61.53,54.08 M70.15,46.28 L69.19,45.96 L68.54,44.99 L68.22,43.38 L68.22,42.41 L68.54,40.8 L69.19,39.83 L70.15,39.51 L70.8,39.51 L71.77,39.83 L72.41,40.8 L72.73,42.41 L72.73,43.38 L72.41,44.99 L71.77,45.96 L70.8,46.28 L70.15,46.28 M43.79,144.45 L43.79,133.53 L42.23,135.09 L41.19,135.61 M53.15,144.45 L51.59,143.93 L50.55,142.37 L50.03,139.77 L50.03,138.21 L50.55,135.61 L51.59,134.05 L53.15,133.53 L54.19,133.53 L55.75,134.05 L56.79,135.61 L57.31,138.21 L57.31,139.77 L56.79,142.37 L55.75,143.93 L54.19,144.45 L53.15,144.45 M60.16,133.74 L65.96,133.74 M68.54,131.49 L68.54,131.16 L68.86,130.52 L69.19,130.2 L69.83,129.88 L71.12,129.88 L71.77,130.2 L72.09,130.52 L72.41,131.16 L72.41,131.81 L72.09,132.45 L71.44,133.42 L68.22,136.65 L72.73,136.65 M43.79,234.81 L43.79,223.89 L42.23,225.45 L41.19,225.97 M53.15,234.81 L51.59,234.29 L50.55,232.73 L50.03,230.13 L50.03,228.57 L50.55,225.97 L51.59,224.41 L53.15,223.89 L54.19,223.89 L55.75,224.41 L56.79,225.97 L57.31,228.57 L57.31,230.13 L56.79,232.73 L55.75,234.29 L54.19,234.81 L53.15,234.81 M60.16,224.11 L65.96,224.11 M71.44,227.01 L71.44,220.24 L68.22,224.75 L73.06,224.75 M43.79,325.17 L43.79,314.25 L42.23,315.81 L41.19,316.33 M53.15,325.17 L51.59,324.65 L50.55,323.09 L50.03,320.49 L50.03,318.93 L50.55,316.33 L51.59,314.77 L53.15,314.25 L54.19,314.25 L55.75,314.77 L56.79,316.33 L57.31,318.93 L57.31,320.49 L56.79,323.09 L55.75,324.65 L54.19,325.17 L53.15,325.17 M60.16,314.47 L65.96,314.47 M68.54,315.12 L68.86,316.41 L69.51,317.05 L70.48,317.37 L70.8,317.37 L71.77,317.05 L72.41,316.41 L72.73,315.44 L72.73,315.12 L72.41,314.15 L71.77,313.5 L70.8,313.18 L70.48,313.18 L69.51,313.5 L68.86,314.15 L68.54,315.12 L68.54,313.5 L68.86,311.89 L69.51,310.92 L70.48,310.6 L71.12,310.6 L72.09,310.92 L72.41,311.57 M43.79,415.54 L43.79,404.62 L42.23,406.18 L41.19,406.7 M53.15,415.54 L51.59,415.02 L50.55,413.46 L50.03,410.86 L50.03,409.3 L50.55,406.7 L51.59,405.14 L53.15,404.62 L54.19,404.62 L55.75,405.14 L56.79,406.7 L57.31,409.3 L57.31,410.86 L56.79,413.46 L55.75,415.02 L54.19,415.54 L53.15,415.54 M60.16,404.83 L65.96,404.83 M71.12,407.74 L72.09,407.41 L72.41,407.09 L72.73,406.45 L72.73,405.48 L72.41,404.83 L71.77,404.19 L70.8,403.87 L69.51,403.55 L68.86,403.22 L68.54,402.58 L68.54,401.93 L68.86,401.29 L69.83,400.97 L71.12,400.97 L72.09,401.29 L72.41,401.93 L72.41,402.58 L72.09,403.22 L71.44,403.55 L70.15,403.87 L69.19,404.19 L68.54,404.83 L68.22,405.48 L68.22,406.45 L68.54,407.09 L68.86,407.41 L69.83,407.74 L71.12,407.74 M37.34,499.9 L37.34,488.98 L35.78,490.54 L34.74,491.06 M46.7,499.9 L45.14,499.38 L44.1,497.82 L43.58,495.22 L43.58,493.66 L44.1,491.06 L45.14,489.5 L46.7,488.98 L47.74,488.98 L49.3,489.5 L50.34,491.06 L50.86,493.66 L50.86,495.22 L50.34,497.82 L49.3,499.38 L47.74,499.9 L46.7,499.9 M53.71,489.2 L59.51,489.2 M64.35,492.1 L64.35,485.33 L63.38,486.3 L62.74,486.62 M70.15,492.1 L69.19,491.78 L68.54,490.81 L68.22,489.2 L68.22,488.23 L68.54,486.62 L69.19,485.65 L70.15,485.33 L70.8,485.33 L71.77,485.65 L72.41,486.62 L72.73,488.23 L72.73,489.2 L72.41,490.81 L71.77,491.78 L70.8,492.1 L70.15,492.1" fill="none" stroke="#000" stroke-width="1.05" stroke-linecap="round" stroke-linejoin="round"/>
<path d="M266.46,530.44 L266.46,543.13 M271.86,535.84 L269.7,543.4 M277.53,536.38 L276.99,535.84 L276.45,535.84 L275.37,536.38 L273.21,538.54 L272.13,539.08 L271.32,539.35 L272.67,539.62 L273.21,540.16 L274.56,542.32 L275.37,543.13 L276.18,543.4 L276.72,543.4 L277.53,542.59 L277.8,542.05 M281.85,530.44 L281.85,543.13 M294.81,536.92 L304.53,536.92 M294.81,540.16 L304.53,540.16 M317.49,530.44 L317.49,543.13 M321.81,532.06 L321.81,543.4 M327.21,535.84 L321.81,541.24 M323.97,539.08 L327.75,543.4 M336.93,541.78 L335.85,542.86 L334.77,543.4 L333.15,543.4 L332.07,542.86 L330.99,541.78 L330.45,540.16 L330.45,539.08 L330.99,537.46 L332.07,536.38 L333.15,535.84 L334.77,535.84 L335.85,536.38 L336.93,537.46 M347.46,530.71 L338.82,546.91 M350.97,542.86 L351.51,543.4 L353.67,543.4 L351.51,539.62 L350.97,537.46 L350.97,535.3 L351.51,533.68 L352.59,532.6 L354.21,532.06 L355.29,532.06 L356.91,532.6 L357.99,533.68 L358.53,535.3 L358.53,537.46 L357.99,539.62 L355.83,543.4 L357.99,543.4 L358.53,542.86 M378.36,530.44 L378.36,543.13 M18.2,292.08 L18.2,292.62 L17.66,293.16 L16.58,293.7 L12.26,294.78 L11.18,295.32 L10.64,295.86 L10.64,296.94 L11.18,298.02 L12.26,299.1 L13.34,299.64 L14.96,300.18 L16.58,300.18 L17.66,299.64 L18.2,298.56 L18.2,297.48 L17.66,296.4 L16.58,295.32 L14.96,294.24 L12.26,293.16 L10.64,292.62 M4.7,284.52 L5.78,285.6 L7.4,286.68 L9.56,287.76 L12.26,288.3 L14.42,288.3 L17.12,287.76 L19.28,286.68 L20.9,285.6 L21.98,284.52 M5.24,280.74 L17.93,280.74 M10.64,275.34 L18.2,277.5 M11.18,269.67 L10.64,270.21 L10.64,270.75 L11.18,271.83 L13.34,273.99 L13.88,275.07 L14.15,275.88 L14.42,274.53 L14.96,273.99 L17.12,272.64 L17.93,271.83 L18.2,271.02 L18.2,270.48 L17.39,269.67 L16.85,269.4 M5.24,265.35 L17.93,265.35 M4.7,261.57 L5.78,260.49 L7.4,259.41 L9.56,258.33 L12.26,257.79 L14.42,257.79 L17.12,258.33 L19.28,259.41 L20.9,260.49 L21.98,261.57 M5.51,237 L21.71,245.64 M17.66,224.85 L18.2,224.31 L18.2,222.15 L14.42,224.31 L12.26,224.85 L10.1,224.85 L8.48,224.31 L7.4,223.23 L6.86,221.61 L6.86,220.53 L7.4,218.91 L8.48,217.83 L10.1,217.29 L12.26,217.29 L14.42,217.83 L18.2,219.99 L18.2,217.83 L17.66,217.29" fill="none" stroke="#000" stroke-width="1.35" stroke-linecap="round" stroke-linejoin="round"/>
<path d="M365.82,546.6 L365.15,547.27 L364.48,547.6 L363.48,547.6 L362.81,547.27 L362.14,546.6 L361.8,545.59 L361.8,544.92 L362.14,543.92 L362.81,543.25 L363.48,542.91 L364.48,542.91 L365.15,543.25 L365.82,543.92 M368.16,547.27 L367.83,546.93 L367.49,547.27 L367.83,547.6 L368.16,547.27 L368.16,547.93 L367.83,548.6 L367.49,548.94 M370.51,544.92 L370.84,543.92 L371.51,543.25 L372.18,542.91 L373.19,542.91 L373.86,543.25 L374.19,543.58 L374.52,544.25 L374.52,544.92 L370.51,544.92 L370.51,545.59 L370.84,546.6 L371.51,547.27 L372.18,547.6 L373.19,547.6 L373.86,547.27 L374.52,546.6 M21.4,210 L22.07,210.67 L22.4,211.34 L22.4,212.34 L22.07,213.01 L21.4,213.68 L20.39,214.02 L19.72,214.02 L18.72,213.68 L18.05,213.01 L17.71,212.34 L17.71,211.34 L18.05,210.67 L18.72,210 M22.07,207.66 L21.73,207.99 L22.07,208.33 L22.4,207.99 L22.07,207.66 L22.73,207.66 L23.4,207.99 L23.74,208.33 M19.72,205.31 L18.72,204.98 L18.05,204.31 L17.71,203.64 L17.71,202.63 L18.05,201.96 L18.38,201.63 L19.05,201.3 L19.72,201.3 L19.72,205.31 L20.39,205.31 L21.4,204.98 L22.07,204.31 L22.4,203.64 L22.4,202.63 L22.07,201.96 L21.4,201.3" fill="none" stroke="#000" stroke-width="1.1" stroke-linecap="round" stroke-linejoin="round"/>
</svg>
</body></html>
